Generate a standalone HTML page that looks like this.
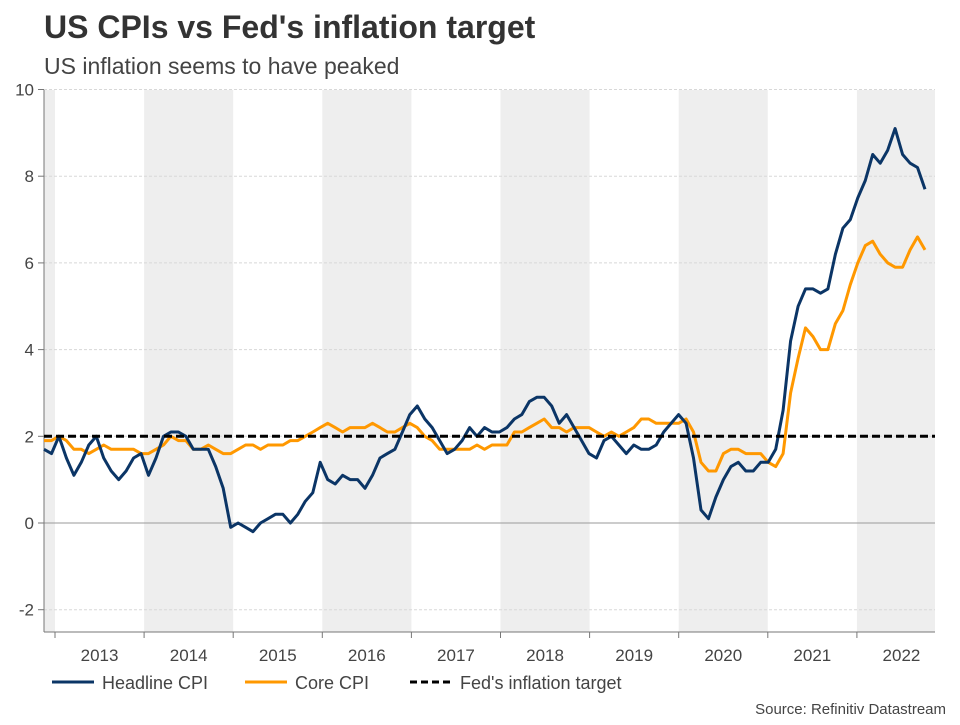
<!DOCTYPE html>
<html><head><meta charset="utf-8"><style>
body{margin:0;background:#fff;font-family:"Liberation Sans",Arial,sans-serif;}
</style></head><body>
<svg id="c" width="960" height="720" xmlns="http://www.w3.org/2000/svg">
<text x="44" y="38" font-size="32" font-weight="bold" fill="#333">US CPIs vs Fed's inflation target</text>
<text x="44" y="74" font-size="23" fill="#444">US inflation seems to have peaked</text>
<g id="bands"></g><g id="grid"></g><g id="axes"></g><g id="series"></g>
<g>
<line x1="52" y1="682" x2="94" y2="682" stroke="#0b3566" stroke-width="3"/>
<text x="102" y="689" font-size="18" fill="#444">Headline CPI</text>
<line x1="245" y1="682" x2="287" y2="682" stroke="#ff9800" stroke-width="3"/>
<text x="295" y="689" font-size="18" fill="#444">Core CPI</text>
<line x1="410" y1="682" x2="452" y2="682" stroke="#000" stroke-width="3" stroke-dasharray="7,4"/>
<text x="460" y="689" font-size="18" fill="#444">Fed's inflation target</text>
</g>
<text x="946" y="714" font-size="15" fill="#444" text-anchor="end">Source: Refinitiv Datastream</text>
</svg>
<script>
const years=[2013,2014,2015,2016,2017,2018,2019,2020,2021,2022];
const yTicks=[-2,0,2,4,6,8,10];
const target=2;
// Dec 2012 .. Oct 2022
const headline=[1.7,
1.6,2.0,1.5,1.1,1.4,1.8,2.0,1.5,1.2,1.0,1.2,1.5,
1.6,1.1,1.5,2.0,2.1,2.1,2.0,1.7,1.7,1.7,1.3,0.8,
-0.1,0.0,-0.1,-0.2,0.0,0.1,0.2,0.2,0.0,0.2,0.5,0.7,
1.4,1.0,0.9,1.1,1.0,1.0,0.8,1.1,1.5,1.6,1.7,2.1,
2.5,2.7,2.4,2.2,1.9,1.6,1.7,1.9,2.2,2.0,2.2,2.1,
2.1,2.2,2.4,2.5,2.8,2.9,2.9,2.7,2.3,2.5,2.2,1.9,
1.6,1.5,1.9,2.0,1.8,1.6,1.8,1.7,1.7,1.8,2.1,2.3,
2.5,2.3,1.5,0.3,0.1,0.6,1.0,1.3,1.4,1.2,1.2,1.4,
1.4,1.7,2.6,4.2,5.0,5.4,5.4,5.3,5.4,6.2,6.8,7.0,
7.5,7.9,8.5,8.3,8.6,9.1,8.5,8.3,8.2,7.7];
const core=[1.9,
1.9,2.0,1.9,1.7,1.7,1.6,1.7,1.8,1.7,1.7,1.7,1.7,
1.6,1.6,1.7,1.8,2.0,1.9,1.9,1.7,1.7,1.8,1.7,1.6,
1.6,1.7,1.8,1.8,1.7,1.8,1.8,1.8,1.9,1.9,2.0,2.1,
2.2,2.3,2.2,2.1,2.2,2.2,2.2,2.3,2.2,2.1,2.1,2.2,
2.3,2.2,2.0,1.9,1.7,1.7,1.7,1.7,1.7,1.8,1.7,1.8,
1.8,1.8,2.1,2.1,2.2,2.3,2.4,2.2,2.2,2.1,2.2,2.2,
2.2,2.1,2.0,2.1,2.0,2.1,2.2,2.4,2.4,2.3,2.3,2.3,
2.3,2.4,2.1,1.4,1.2,1.2,1.6,1.7,1.7,1.6,1.6,1.6,
1.4,1.3,1.6,3.0,3.8,4.5,4.3,4.0,4.0,4.6,4.9,5.5,
6.0,6.4,6.5,6.2,6.0,5.9,5.9,6.3,6.6,6.3];
const L=44,R=935,T=90,B=632,Y0=55,YW=89.1;
const ys=v=>523-v*43.35;
const xm=i=>44+i*7.466; // i=0 is Dec 2012
const NS="http://www.w3.org/2000/svg";
function mk(p,t,a){const e=document.createElementNS(NS,t);for(const k in a)e.setAttribute(k,a[k]);p.appendChild(e);return e;}
const bands=document.getElementById('bands'),grid=document.getElementById('grid'),axes=document.getElementById('axes'),series=document.getElementById('series');
let b=mk(bands,'rect',{x:L,y:T,width:Y0-L,height:B-T,fill:'#eeeeee'});


years.forEach((y,k)=>{
 const x0=Y0+k*YW;
 if(k%2==1){const r=mk(bands,'rect',{x:x0,y:T,width:Math.min(YW,R-x0),height:B-T,fill:'#eeeeee'});
 
 }
 mk(axes,'line',{x1:x0,y1:B,x2:x0,y2:B+6,stroke:'#777'});
 const t=mk(axes,'text',{x:x0+YW/2,y:B+29,'font-size':17,fill:'#444','text-anchor':'middle'});t.textContent=y;
 
 
});
yTicks.forEach(v=>{
 const y=ys(v);
 if(v===0)mk(grid,'line',{x1:L,y1:y,x2:R,y2:y,stroke:'#999'});
 else mk(grid,'line',{x1:L,y1:y,x2:R,y2:y,stroke:'#d8d8d8','stroke-dasharray':'3,2'});
 mk(axes,'line',{x1:L-6,y1:y,x2:L,y2:y,stroke:'#777'});
 const t=mk(axes,'text',{x:L-10,y:y+6,'font-size':17,fill:'#444','text-anchor':'end'});t.textContent=v;
 
 
});
mk(axes,'line',{x1:L,y1:T,x2:L,y2:B,stroke:'#777'});
mk(axes,'line',{x1:L,y1:B,x2:R,y2:B,stroke:'#777'});
function line(d,c,n){const p=mk(series,'path',{d:d.map((v,i)=>(i?'L':'M')+xm(i).toFixed(1)+','+ys(v).toFixed(1)).join(''),fill:'none',stroke:c,'stroke-width':3,'stroke-linejoin':'round'});
 
 }
line(core,'#ff9800','core-cpi-line');
line(headline,'#0b3566','headline-cpi-line');
const f=mk(series,'line',{x1:L,y1:ys(target),x2:R,y2:ys(target),stroke:'#000','stroke-width':3,'stroke-dasharray':'8,4'});


</script>
</body></html>
